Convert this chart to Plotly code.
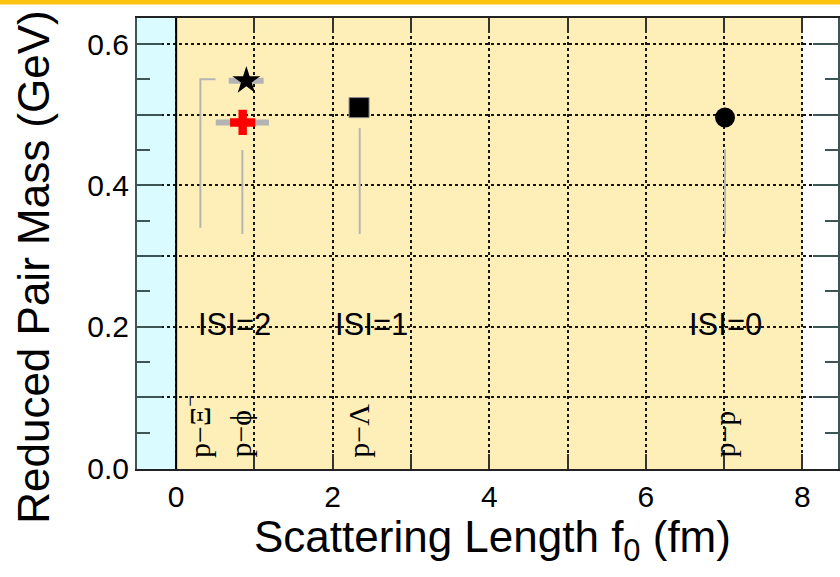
import plotly.graph_objects as go

# ---------------- data ----------------
star_f0 = [0.897]; star_mu = [0.548]; star_err_lo = [0.225]; star_err_hi = [0.221]
cross_f0 = [0.85]; cross_mu = [0.489]; cross_err_lo = [0.344]; cross_err_hi = [0.336]
square_f0 = [2.337]; square_mu = [0.510]
circle_f0 = [7.012]; circle_mu = [0.496]

range_x = [0.846, 2.345, 7.012]
range_lo = [0.331, 0.331, 0.331]
range_hi = [0.450, 0.481, 0.451]

bracket_x = [0.503, 0.31, 0.31]
bracket_y = [0.550, 0.550, 0.340]

isi_labels = ["ISI=2", "ISI=1", "ISI=0"]
isi_x = [0.74, 2.50, 7.015]
isi_y = [0.203, 0.203, 0.203]

pair_labels = ["p\u2212\u039e<sup>\u2212</sup>", "p\u2212\u03d5", "p\u2212\u039b", "p\u2212p"]
pair_x = [0.26, 0.81, 2.32, 7.0]
pair_y = [0.0113, 0.0113, 0.0113, 0.0113]

x_labelled = [0, 2, 4, 6, 8]
x_unlabelled = [1, 3, 5, 7]
y_labelled = [0.0, 0.2, 0.4, 0.6]
y_unlabelled = [0.1, 0.3, 0.5]
y_small = [0.05, 0.15, 0.25, 0.35, 0.45, 0.55]

GRAY = "#b5b5b5"
SANS = "Liberation Sans, Arial, sans-serif"
SERIF = "Liberation Serif, Times New Roman, serif"
GRID = "#151515"
GW = 1.6
AX = "#3d5555"
YRANGE = [-0.0014, 0.6368]
XRANGE = [-0.5, -0.5 + 703 / 78.5]

fig = go.Figure()

# theory ranges (thin gray lines)
for xv, lo, hi in zip(range_x, range_lo, range_hi):
    fig.add_trace(go.Scatter(x=[xv, xv], y=[lo, hi], mode="lines",
                             line=dict(color=GRAY, width=2), hoverinfo="skip"))
fig.add_trace(go.Scatter(x=bracket_x, y=bracket_y, mode="lines",
                         line=dict(color=GRAY, width=2), hoverinfo="skip"))

# measured points
fig.add_trace(go.Scatter(x=star_f0, y=star_mu, mode="markers",
                         marker=dict(symbol="star", size=21, color="black"),
                         error_x=dict(type="data", symmetric=False, array=star_err_hi,
                                      arrayminus=star_err_lo, color="#b3b3b3",
                                      thickness=6, width=0)))
fig.add_trace(go.Scatter(x=cross_f0, y=cross_mu, mode="markers",
                         marker=dict(symbol="cross", size=21, color="#ff0000"),
                         error_x=dict(type="data", symmetric=False, array=cross_err_hi,
                                      arrayminus=cross_err_lo, color="#b3b3b3",
                                      thickness=6, width=0)))
fig.add_trace(go.Scatter(x=square_f0, y=square_mu, mode="markers",
                         marker=dict(symbol="square", size=20, color="black",
                                     line=dict(color="#888", width=1))))
fig.add_trace(go.Scatter(x=circle_f0, y=circle_mu, mode="markers",
                         marker=dict(symbol="circle", size=20, color="black")))
# invisible trace to carry the secondary (small-tick) y axis
fig.add_trace(go.Scatter(x=[None], y=[None], yaxis="y2", mode="markers",
                         hoverinfo="skip", showlegend=False))

shapes = [
    dict(type="rect", xref="x", yref="paper", x0=-0.5, x1=0, y0=0, y1=1,
         fillcolor="#dafbff", line=dict(width=0), layer="below"),
    dict(type="rect", xref="x", yref="paper", x0=0, x1=8, y0=0, y1=1,
         fillcolor="#feefb9", line=dict(width=0), layer="below"),
    dict(type="line", xref="x", yref="paper", x0=0, x1=0, y0=0, y1=1,
         line=dict(color="black", width=2), layer="above"),
    dict(type="rect", xref="paper", yref="paper", x0=-0.3, x1=1.1,
         y0=1 + 13.5 / 451, y1=1 + 18.5 / 451,
         fillcolor="#ffc20e", line=dict(width=0)),
]

annotations = []
for t, xv, yv in zip(isi_labels, isi_x, isi_y):
    annotations.append(dict(x=xv, y=yv, xref="x", yref="y", text=t, showarrow=False,
                            font=dict(family=SANS, size=31, color="black"),
                            xanchor="center", yanchor="middle"))
for t, xv, yv in zip(pair_labels, pair_x, pair_y):
    annotations.append(dict(x=xv, y=yv, xref="x", yref="y", text=t, showarrow=False,
                            textangle=-90,
                            font=dict(family=SERIF, size=30, color="black"),
                            xanchor="center", yanchor="bottom"))

annotations.append(dict(x=0, y=(469 - 266.8) / 451, xref="paper", yref="paper",
                        xshift=-103, text="Reduced Pair Mass (GeV)", showarrow=False,
                        textangle=-90, font=dict(family=SANS, size=44, color="black"),
                        xanchor="center", yanchor="middle"))
annotations.append(dict(x=(494 - 137) / 703, y=(469 - 540) / 451, xref="paper", yref="paper",
                        text="Scattering Length f<sub>0</sub> (fm)", showarrow=False,
                        font=dict(family=SANS, size=44, color="black"),
                        xanchor="center", yanchor="middle"))

fig.update_layout(
    width=840, height=577,
    margin=dict(l=137, r=0, t=18, b=108),
    paper_bgcolor="white", plot_bgcolor="white",
    showlegend=False,
    shapes=shapes, annotations=annotations,
    xaxis=dict(range=XRANGE, tickmode="array", tickvals=x_labelled,
               ticktext=[str(v) for v in x_labelled],
               ticks="inside", ticklen=15, tickwidth=2,
               tickcolor="#333", showline=True, linecolor="#222", linewidth=2,
               mirror="ticks", showgrid=True, gridcolor=GRID, gridwidth=GW,
               griddash="dot", zeroline=False,
               minor=dict(tickvals=x_unlabelled, ticks="inside", ticklen=15, tickwidth=2,
                          tickcolor="#333", showgrid=True, gridcolor=GRID, gridwidth=GW,
                          griddash="dot"),
               tickfont=dict(family=SANS, size=30, color="black")),
    yaxis=dict(range=YRANGE, tickmode="array", tickvals=y_labelled,
               ticktext=["%.1f" % v for v in y_labelled],
               ticks="inside", ticklen=25, tickwidth=2,
               tickcolor=AX, showline=True, linecolor=AX, linewidth=2,
               mirror="ticks", showgrid=True, gridcolor=GRID, gridwidth=GW,
               griddash="dot", zeroline=False,
               minor=dict(tickvals=y_unlabelled, ticks="inside", ticklen=25, tickwidth=2,
                          tickcolor=AX, showgrid=True, gridcolor=GRID, gridwidth=GW,
                          griddash="dot"),
               tickfont=dict(family=SANS, size=30, color="black")),
    yaxis2=dict(range=YRANGE, overlaying="y", side="left", tickmode="array",
                tickvals=y_small, ticks="inside", ticklen=13, tickwidth=2,
                tickcolor=AX, showticklabels=False, showline=False, mirror="ticks",
                showgrid=False, zeroline=False),
)

fig.write_html("out.html")
